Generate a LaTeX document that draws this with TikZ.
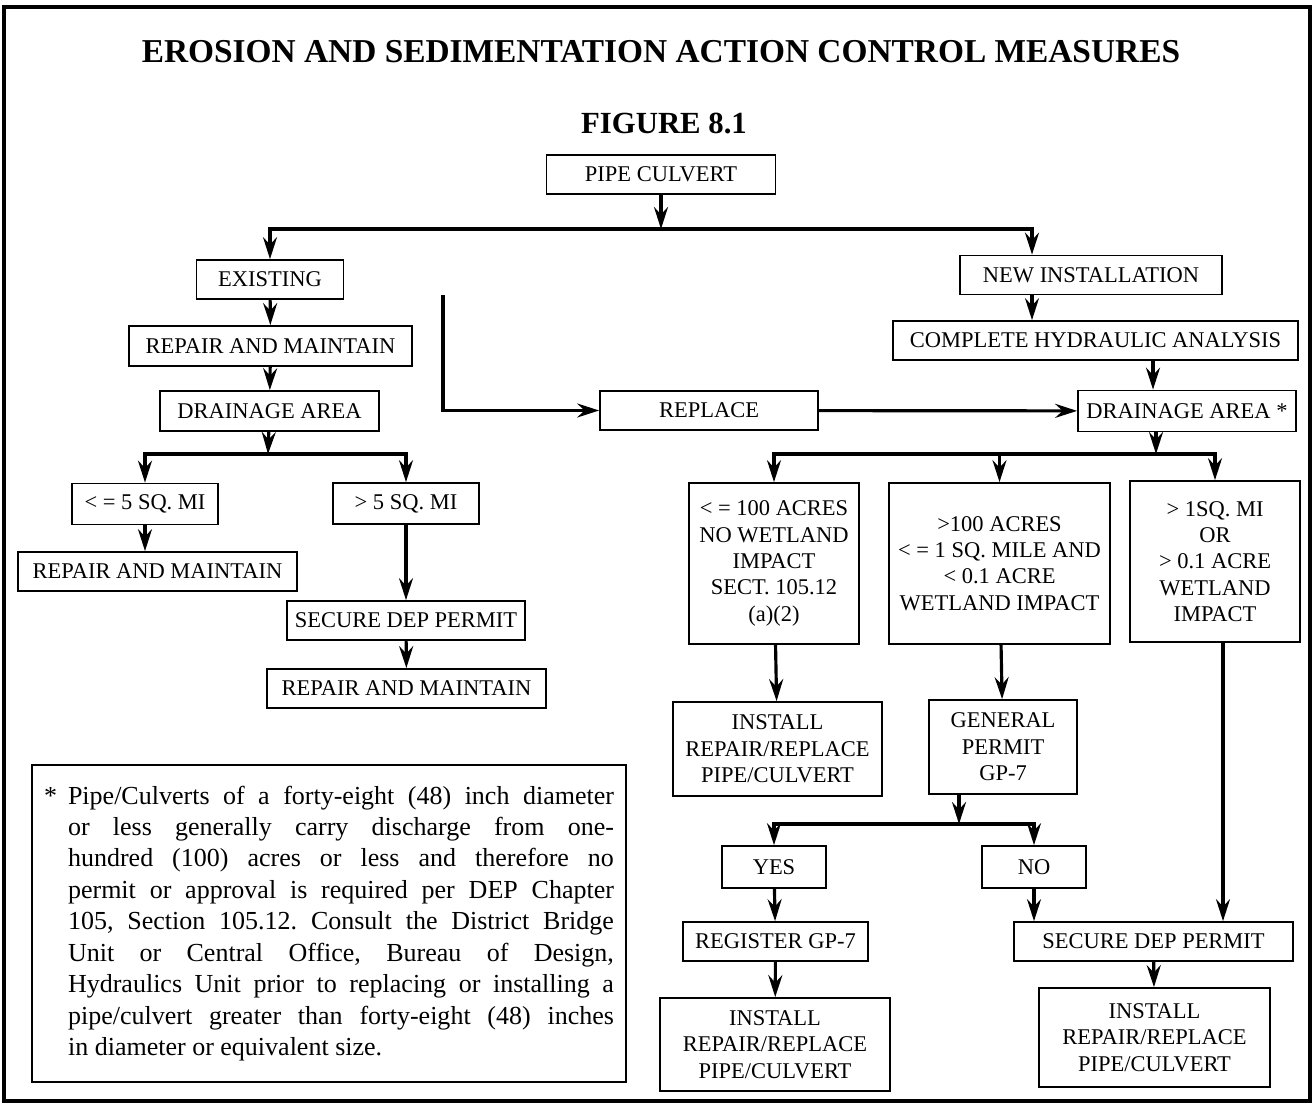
\documentclass[tikz,border=0pt]{standalone}
\usepackage{fontspec}
\setmainfont{Liberation Serif}
\usepackage{xcolor}
\usepackage{tikz}
\usetikzlibrary{arrows.meta}

\newcommand{\noteline}[1]{\makebox[10.92cm][s]{#1}}
\frenchspacing

\begin{document}
\begin{tikzpicture}[x=0.02cm, y=-0.02cm,
    box/.style={draw, rectangle, line width=1pt, inner sep=2pt, align=center,
        minimum height=0.78cm, font=\fontsize{12.8}{15}\selectfont},
    arr/.style={line width=1.8pt, -{Stealth[length=4.4mm, width=2.8mm, inset=1.5mm]}},
    headline/.style={font=\fontsize{18}{20}\selectfont\bfseries}]

    \useasboundingbox (0,0) rectangle (1315,1104);
    \draw[line width=2.2pt] (4,7) rectangle (1310,1101);

    \node[headline, font=\fontsize{19}{21}\selectfont\bfseries] (title) at (661,51.5) {EROSION AND SEDIMENTATION ACTION CONTROL MEASURES};
    \node[headline, font=\fontsize{17.5}{20}\selectfont\bfseries] (fig) at (664,123.5) {FIGURE 8.1};

    \node[box, minimum width=4.58cm] (pipe) at (661,174.5) {PIPE CULVERT};

    \node[box, minimum width=2.94cm] (exist) at (270,279.5) {EXISTING};
    \node[box, minimum width=5.66cm, minimum height=0.8cm] (repA) at (270.5,346) {REPAIR AND MAINTAIN};
    \node[box, minimum width=4.38cm, minimum height=0.8cm] (drainL) at (269.5,411) {DRAINAGE AREA};
    \node[box, minimum width=2.92cm, minimum height=0.82cm] (le5) at (145,504) {< = 5 SQ. MI};
    \node[box, minimum width=2.92cm, minimum height=0.82cm] (gt5) at (406,503.5) {> 5 SQ. MI};
    \node[box, minimum width=5.58cm] (repB) at (157.5,571.5) {REPAIR AND MAINTAIN};
    \node[box, minimum width=4.76cm] (secL) at (406,620.5) {SECURE DEP PERMIT};
    \node[box, minimum width=5.58cm] (repC) at (406.5,688.5) {REPAIR AND MAINTAIN};

    \node[box, minimum width=5.24cm] (newinst) at (1091,275) {NEW INSTALLATION};
    \node[box, minimum width=8.1cm] (hydro) at (1095.5,340.5) {COMPLETE HYDRAULIC ANALYSIS};
    \node[box, minimum width=4.36cm] (replace) at (709,410.5) {REPLACE};
    \node[box, minimum width=4.36cm, minimum height=0.82cm] (drainR) at (1187,411) {DRAINAGE AREA *};

    \node[box, minimum width=3.4cm, minimum height=3.22cm] (acres) at (774,563.5)
        {< = 100 ACRES\\NO WETLAND\\IMPACT\\SECT. 105.12\\(a)(2)};
    \node[box, minimum width=4.42cm, minimum height=3.22cm] (mile) at (999.5,563.5)
        {>100 ACRES\\< = 1 SQ. MILE AND\\< 0.1 ACRE\\WETLAND IMPACT};
    \node[box, minimum width=3.4cm, minimum height=3.22cm] (over) at (1215,561.5)
        {> 1SQ. MI\\OR\\> 0.1 ACRE\\WETLAND\\IMPACT};

    \node[box, minimum width=4.18cm, minimum height=1.88cm] (instA) at (777.5,749)
        {INSTALL\\REPAIR/REPLACE\\PIPE/CULVERT};
    \node[box, minimum width=2.96cm, minimum height=1.88cm] (gp) at (1003,747)
        {GENERAL\\PERMIT\\GP-7};
    \node[box, minimum width=2.08cm, minimum height=0.84cm] (yes) at (774,867) {YES};
    \node[box, minimum width=2.08cm, minimum height=0.84cm] (no) at (1034,867) {NO};
    \node[box, minimum width=3.7cm] (reg) at (775.5,941.5) {REGISTER GP-7};
    \node[box, minimum width=5.58cm] (secR) at (1153.5,941.5) {SECURE DEP PERMIT};
    \node[box, minimum width=4.6cm, minimum height=1.86cm] (instB) at (775,1044.5)
        {INSTALL\\REPAIR/REPLACE\\PIPE/CULVERT};
    \node[box, minimum width=4.62cm, minimum height=1.98cm] (instC) at (1154.5,1037.5)
        {INSTALL\\REPAIR/REPLACE\\PIPE/CULVERT};

    \node[draw, line width=1pt, minimum width=11.88cm, minimum height=6.34cm, inner sep=0pt,
        align=left, font=\fontsize{14.8}{17.9}\selectfont] (note) at (329,923.5)
        {\makebox[0.48cm][l]{*}\noteline{Pipe/Culverts of a forty-eight (48) inch diameter}\\
         \hspace*{0.48cm}\noteline{or less generally carry discharge from one-}\\
         \hspace*{0.48cm}\noteline{hundred (100) acres or less and therefore no}\\
         \hspace*{0.48cm}\noteline{permit or approval is required per DEP Chapter}\\
         \hspace*{0.48cm}\noteline{105, Section 105.12. Consult the District Bridge}\\
         \hspace*{0.48cm}\noteline{Unit or Central Office, Bureau of Design,}\\
         \hspace*{0.48cm}\noteline{Hydraulics Unit prior to replacing or installing a}\\
         \hspace*{0.48cm}\noteline{pipe/culvert greater than forty-eight (48) inches}\\
         \hspace*{0.48cm}in diameter or equivalent size.};

    \coordinate (top) at (661,229);
    \coordinate (xn) at (1032,0);
    \coordinate (xd) at (1153,0);
    \coordinate (xs) at (1223,0);
    \coordinate (rp) at (443,295);
    \coordinate (left) at (268,454);
    \coordinate (right) at (1156,454);
    \coordinate (gpj) at (959,824);

    \draw[arr] (pipe) -- (top);
    \draw[arr] (top) -| (exist);
    \draw[arr] (top) -| (newinst.north -| xn);
    \draw[arr] (exist) -- (repA);
    \draw[arr] (repA) -- (drainL);
    \draw[arr] (drainL) -- (left);
    \draw[arr] (left) -| (le5);
    \draw[arr] (left) -| (gt5);
    \draw[arr] (le5.south) -- (le5.south |- repB.north);
    \draw[arr] (gt5) -- (secL);
    \draw[arr] (secL) -- (repC);

    \draw[arr] (newinst.south -| xn) -- (hydro.north -| xn);
    \draw[arr] (hydro.south -| xd) -- (drainR.north -| xd);
    \draw[arr] (rp) |- (replace);
    \draw[arr] (replace) -- (drainR);
    \draw[arr] (drainR.south -| right) -- (right);
    \draw[arr] (right) -| (acres);
    \draw[arr] (right) -| (mile);
    \draw[arr] (right) -| (over);
    \draw[arr] (acres) -- (instA);
    \draw[arr] (mile) -- (gp);
    \draw[arr] (over.south -| xs) -- (secR.north -| xs);
    \draw[arr] (gp.south -| gpj) -- (gpj);
    \draw[arr] (gpj) -| (yes);
    \draw[arr] (gpj) -| (no);
    \draw[arr] (yes) -- (reg);
    \draw[arr] (no.south) -- (no.south |- secR.north);
    \draw[arr] (reg) -- (instB);
    \draw[arr] (secR) -- (instC);
\end{tikzpicture}
\end{document}
